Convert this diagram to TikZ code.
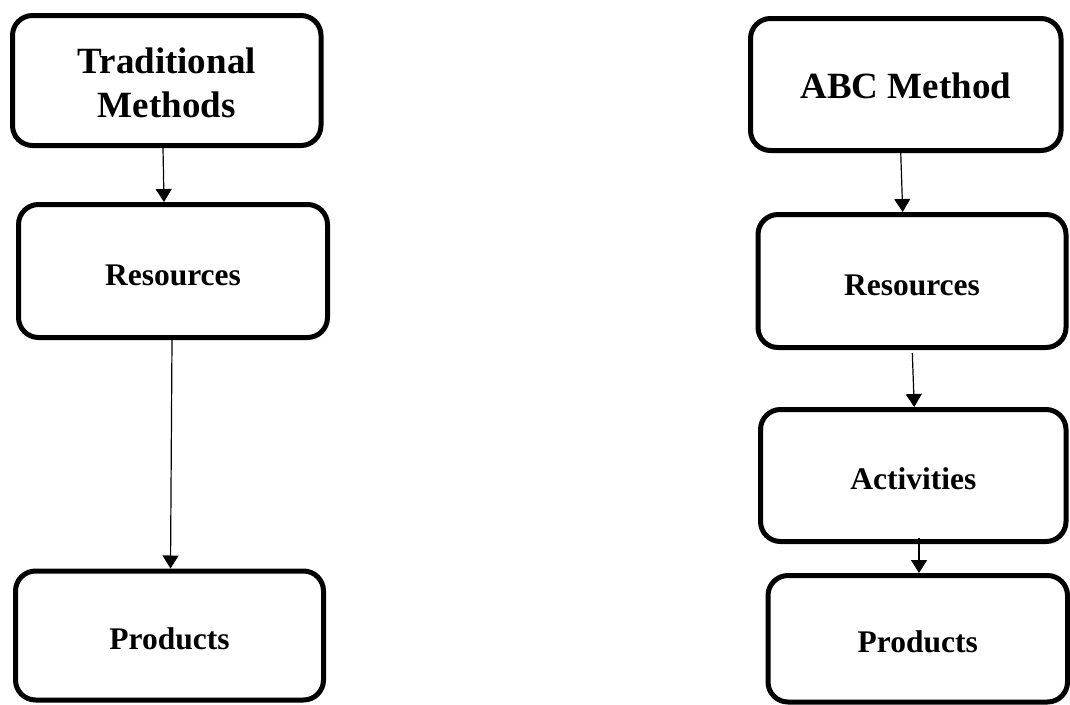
\documentclass[tikz,border=0pt]{standalone}
\usepackage{fontspec}
\setmainfont{Liberation Serif}
\usetikzlibrary{arrows.meta}

\begin{document}
\begin{tikzpicture}[x=1pt, y=-1pt,
  box/.style={draw=black, line width=5pt, rounded corners=20pt, inner sep=0pt,
    font=\bfseries\fontsize{31.5}{36}\selectfont, text height=28pt, text depth=0pt},
  headbox/.style={draw=black, line width=5pt, rounded corners=20pt, inner sep=0pt,
    font=\bfseries\fontsize{37}{44}\selectfont, align=center},
  arr/.style={line width=1.2pt, -{Triangle[length=13pt, width=16pt]}}]

\useasboundingbox (0,0) rectangle (1070,704);

% traditional costing
\node[headbox, minimum width=308.5pt, minimum height=130pt, text height=73pt, text depth=0pt] (trad) at (166.75,80.5) {Traditional\\Methods};
\node[box, minimum width=309pt, minimum height=133pt] (resL) at (173,271) {Resources};
\node[box, minimum width=308pt, minimum height=129pt] (prodL) at (169.5,635.5) {Products};

% activity-based costing
\node[headbox, minimum width=310.5pt, minimum height=132pt, text height=27pt, text depth=0pt] (abc) at (905.75,84.5) {ABC Method};
\node[box, minimum width=308pt, minimum height=133pt] (resR) at (912,281) {Resources};
\node[box, minimum width=305.5pt, minimum height=132pt] (act) at (913.25,475.5) {Activities};
\node[box, minimum width=299.5pt, minimum height=126.5pt] (prodR) at (917.75,638.75) {Products};

% flows
\draw[arr] ([xshift=-3.75pt]trad.south) -- ([xshift=-9pt]resL.north);
\draw[arr] ([xshift=-1pt]resL.south) -- ([xshift=1pt]prodL.north);
\draw[arr] ([xshift=-5pt]abc.south) -- ([xshift=-9.3pt]resR.north);
\draw[arr] ([xshift=0.3pt,yshift=-3pt]resR.south) -- ([xshift=1pt]act.north);
\draw[arr] ([xshift=5.75pt,yshift=6pt]act.south) -- ([xshift=1.25pt]prodR.north);
\end{tikzpicture}
\end{document}
